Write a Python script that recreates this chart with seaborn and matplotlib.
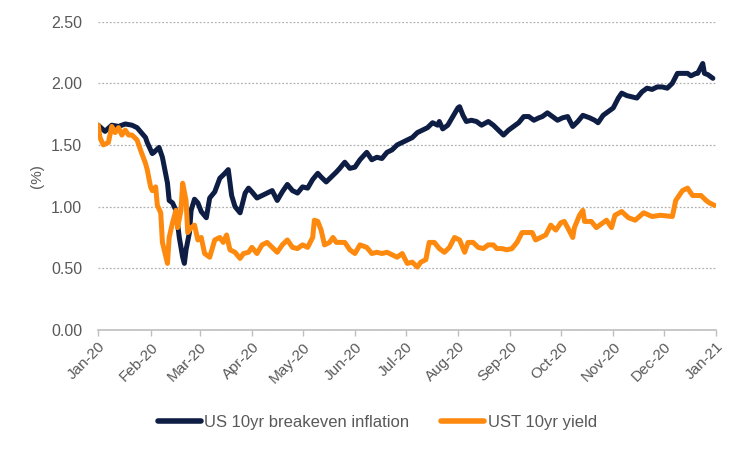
import pandas as pd
import numpy as np
import seaborn as sns
import matplotlib.pyplot as plt
import matplotlib.dates as mdates

# days since 1 Jan 2020
be_days = [0, 4, 8, 12, 16, 20, 23, 28, 29, 32, 33, 36, 38, 41, 42, 44, 46, 48, 50, 51,
           52, 54, 55, 57, 59, 61, 64, 66, 69, 72, 75, 77, 79, 81, 84, 87, 89, 91, 94, 97,
           100, 103, 106, 109, 112, 115, 118, 121, 124, 127, 130, 132, 135, 138, 141, 143,
           146, 149, 152, 155, 159, 162, 165, 168, 171, 174, 177, 180, 183, 186, 189, 192,
           195, 198, 201, 202, 204, 207, 210, 213, 214, 216, 218, 221, 224, 227, 231, 234,
           237, 240, 243, 246, 249, 252, 255, 258, 261, 263, 266, 269, 272, 275, 278, 281,
           284, 287, 291, 294, 296, 299, 302, 305, 308, 310, 313, 316, 319, 322, 325, 328,
           331, 334, 337, 340, 343, 346, 349, 351, 354, 355, 358, 359, 361, 364]
breakeven = [1.66, 1.61, 1.66, 1.65, 1.67, 1.66, 1.64, 1.56, 1.52, 1.43, 1.44, 1.48, 1.40,
             1.19, 1.05, 1.03, 0.97, 0.75, 0.59, 0.54, 0.65, 0.79, 0.97, 1.06, 1.03, 0.96,
             0.91, 1.07, 1.12, 1.23, 1.27, 1.30, 1.09, 1.00, 0.95, 1.11, 1.15, 1.12, 1.07,
             1.09, 1.11, 1.13, 1.05, 1.12, 1.18, 1.13, 1.11, 1.16, 1.15, 1.22, 1.27, 1.24,
             1.20, 1.24, 1.28, 1.31, 1.36, 1.31, 1.32, 1.38, 1.44, 1.38, 1.40, 1.39, 1.44,
             1.46, 1.50, 1.52, 1.54, 1.56, 1.60, 1.62, 1.64, 1.68, 1.66, 1.69, 1.63, 1.66,
             1.73, 1.80, 1.81, 1.74, 1.69, 1.70, 1.69, 1.66, 1.69, 1.66, 1.62, 1.58, 1.62,
             1.65, 1.68, 1.73, 1.73, 1.70, 1.72, 1.73, 1.76, 1.73, 1.70, 1.72, 1.73, 1.65,
             1.69, 1.74, 1.72, 1.70, 1.68, 1.74, 1.77, 1.80, 1.88, 1.92, 1.90, 1.89, 1.88,
             1.93, 1.96, 1.95, 1.97, 1.97, 1.96, 2.00, 2.08, 2.08, 2.08, 2.06, 2.08, 2.08,
             2.16, 2.08, 2.07, 2.04]

ust_days = [0, 1, 3, 6, 8, 10, 12, 14, 16, 18, 20, 23, 25, 28, 29, 31, 32, 34, 35, 37,
            38, 41, 42, 44, 46, 47, 49, 50, 52, 53, 55, 57, 59, 61, 63, 66, 69, 72, 74,
            76, 78, 81, 84, 86, 89, 91, 94, 97, 100, 103, 106, 109, 112, 115, 118, 121,
            124, 127, 128, 130, 132, 134, 137, 139, 141, 143, 146, 149, 152, 155, 159, 162,
            165, 168, 171, 174, 177, 180, 183, 186, 189, 191, 194, 196, 199, 202, 205, 208,
            211, 214, 217, 219, 222, 225, 228, 231, 234, 236, 239, 242, 245, 248, 251, 254,
            257, 259, 262, 265, 268, 271, 274, 276, 278, 281, 282, 285, 287, 288, 292, 295,
            301, 304, 306, 310, 314, 318, 323, 328, 333, 340, 342, 346, 349, 352, 357, 360,
            362, 365]
ust_yield = [1.66, 1.56, 1.50, 1.52, 1.65, 1.60, 1.64, 1.58, 1.62, 1.58, 1.58, 1.54, 1.46,
             1.35, 1.30, 1.16, 1.13, 1.16, 1.01, 0.95, 0.71, 0.54, 0.75, 0.87, 0.97, 0.83,
             0.97, 1.19, 1.05, 0.79, 0.83, 0.85, 0.73, 0.75, 0.62, 0.59, 0.73, 0.75, 0.71,
             0.77, 0.65, 0.63, 0.58, 0.62, 0.63, 0.67, 0.62, 0.69, 0.71, 0.67, 0.63, 0.69,
             0.73, 0.67, 0.66, 0.69, 0.67, 0.75, 0.89, 0.88, 0.81, 0.69, 0.71, 0.75, 0.71,
             0.71, 0.71, 0.65, 0.62, 0.69, 0.67, 0.62, 0.63, 0.62, 0.63, 0.61, 0.59, 0.62,
             0.54, 0.55, 0.51, 0.55, 0.57, 0.71, 0.71, 0.66, 0.63, 0.67, 0.75, 0.73, 0.63,
             0.71, 0.71, 0.67, 0.66, 0.69, 0.69, 0.66, 0.66, 0.65, 0.66, 0.71, 0.79, 0.79,
             0.79, 0.73, 0.75, 0.77, 0.85, 0.81, 0.87, 0.88, 0.83, 0.75, 0.83, 0.93, 0.97,
             0.88, 0.88, 0.83, 0.89, 0.83, 0.93, 0.96, 0.91, 0.89, 0.95, 0.92, 0.93, 0.92,
             1.05, 1.13, 1.15, 1.09, 1.09, 1.05, 1.03, 1.01]

series_names = ["US 10yr breakeven inflation", "UST 10yr yield"]
colors = ["#0e1d44", "#fd8a0e"]

start = pd.Timestamp("2020-01-01")
df = pd.concat([
    pd.DataFrame({"date": start + pd.to_timedelta(be_days, unit="D"),
                  "value": breakeven, "series": series_names[0]}),
    pd.DataFrame({"date": start + pd.to_timedelta(ust_days, unit="D"),
                  "value": ust_yield, "series": series_names[1]}),
])

sns.set_style("white")
plt.rcParams["font.family"] = ["Liberation Sans", "DejaVu Sans"]

fig = plt.figure(figsize=(7.5, 4.49), dpi=100)
ax = fig.add_axes([0.131, 0.265, 0.824, 0.687])

sns.lineplot(data=df, x="date", y="value", hue="series", palette=colors,
             linewidth=3.6, ax=ax, legend=False)

ax.set_ylim(0, 2.5)
ax.set_yticks(np.arange(0, 2.51, 0.5))
ax.yaxis.set_major_formatter(plt.FormatStrFormatter("%.2f"))
ax.set_xlim(pd.Timestamp("2020-01-01"), pd.Timestamp("2021-01-01"))
ax.xaxis.set_major_locator(mdates.MonthLocator())
ax.xaxis.set_major_formatter(mdates.DateFormatter("%b-%y"))

ax.grid(axis="y", color="#b0b0b0", linestyle=(0, (1.5, 1.5)), linewidth=0.9)
for s in ["left", "right", "top"]:
    ax.spines[s].set_visible(False)
ax.spines["bottom"].set_color("#bfbfbf")
ax.spines["bottom"].set_linewidth(1.2)

ax.tick_params(axis="x", colors="#595959", labelsize=11, length=4, width=1,
               direction="out", bottom=True, color="#bfbfbf", pad=3)
ax.tick_params(axis="y", colors="#595959", labelsize=11.5, length=0, pad=11.5)
plt.setp(ax.get_xticklabels(), rotation=45, ha="right", rotation_mode="anchor")

ax.set_xlabel("")
ax.set_ylabel("(%)", color="#595959", fontsize=11, labelpad=5)

handles = [plt.Line2D([], [], color=c, linewidth=4) for c in colors]
fig.legend(handles, series_names, loc="center", bbox_to_anchor=(0.503, 0.06),
           ncol=2, frameon=False, fontsize=12, handlelength=2.6,
           handletextpad=0.2, columnspacing=1.9, labelcolor="#595959")

fig.savefig("out.png", dpi=100)
